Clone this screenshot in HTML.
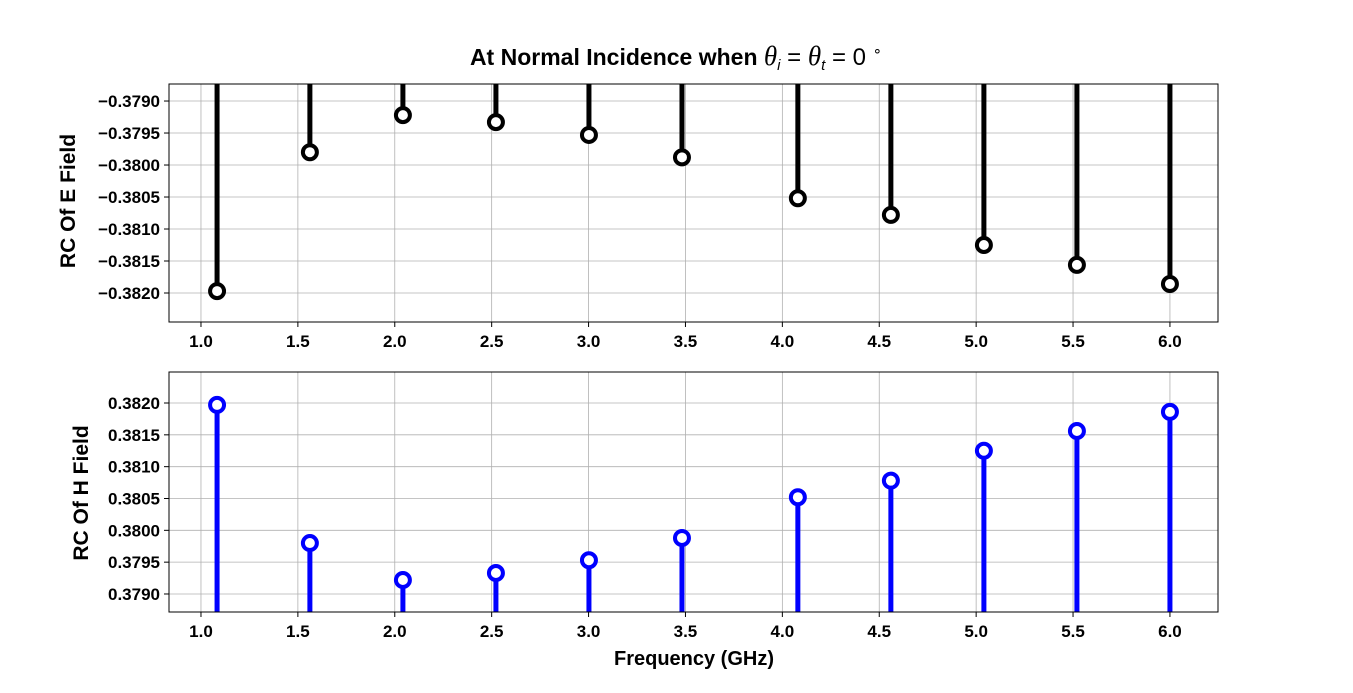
<!DOCTYPE html>
<html><head><meta charset="utf-8"><style>
body{margin:0;background:#fff;}
text{font-family:"Liberation Sans",sans-serif;font-weight:bold;}
</style></head><body>
<svg id="chart" width="1353" height="688" xmlns="http://www.w3.org/2000/svg">
<rect width="1353" height="688" fill="#fff"/>
<text x="676" y="65" font-size="23" text-anchor="middle">At Normal Incidence when <tspan font-family="Liberation Serif" font-style="italic" font-weight="normal" font-size="27">θ</tspan><tspan font-weight="normal" font-style="italic" font-size="15" dy="5">i</tspan><tspan dy="-5" font-weight="normal" font-size="24"> = </tspan><tspan font-family="Liberation Serif" font-style="italic" font-weight="normal" font-size="27">θ</tspan><tspan font-weight="normal" font-style="italic" font-size="15" dy="5">t</tspan><tspan dy="-5" font-weight="normal" font-size="24"> = 0 </tspan><tspan font-weight="normal" font-size="15" dy="-9">∘</tspan></text>
<g id="top"></g>
<g id="bot"></g>
<text x="694" y="665" font-size="20" text-anchor="middle">Frequency (GHz)</text>
<text transform="translate(75,201) rotate(-90)" font-size="21" text-anchor="middle">RC Of E Field</text>
<text transform="translate(88,493) rotate(-90)" font-size="21" text-anchor="middle">RC Of H Field</text>
</svg>
<script>
const freqs=[1.083,1.562,2.042,2.522,3.002,3.482,4.08,4.56,5.04,5.52,6.0];
const eValues=[-0.38197,-0.37980,-0.37922,-0.37933,-0.37953,-0.37988,-0.38052,-0.38078,-0.38125,-0.38156,-0.38186];
const hValues=[0.38197,0.37980,0.37922,0.37933,0.37953,0.37988,0.38052,0.38078,0.38125,0.38156,0.38186];
const xTicks=[1.0,1.5,2.0,2.5,3.0,3.5,4.0,4.5,5.0,5.5,6.0];
const eTicks=[-0.3790,-0.3795,-0.3800,-0.3805,-0.3810,-0.3815,-0.3820];
const hTicks=[0.3790,0.3795,0.3800,0.3805,0.3810,0.3815,0.3820];
const NS="http://www.w3.org/2000/svg";
const L=169,R=1218,xmin=0.835,xmax=6.248;
const xs=v=>L+(v-xmin)/(xmax-xmin)*(R-L);
function mk(p,t,a){const e=document.createElementNS(NS,t);for(const k in a)e.setAttribute(k,a[k]);p.appendChild(e);return e;}
function panel(g,top,bot,ymin,ymax,ticks,vals,color,fromTop,nm){
  const ys=v=>bot-(v-ymin)/(ymax-ymin)*(bot-top);
  xTicks.forEach(t=>{const x=xs(t);
    const l=mk(g,'line',{x1:x,x2:x,y1:top,y2:bot,stroke:'#b0b0b0','stroke-width':0.8});
    
    
    mk(g,'line',{x1:x,x2:x,y1:bot,y2:bot+5,stroke:'#000'});
    const tx=mk(g,'text',{x:x,y:bot+25,'font-size':17,'text-anchor':'middle'});tx.textContent=t.toFixed(1);
    
    
  });
  ticks.forEach(t=>{const y=ys(t);
    const l=mk(g,'line',{x1:L,x2:R,y1:y,y2:y,stroke:'#b0b0b0','stroke-width':0.8});
    
    
    mk(g,'line',{x1:L-5,x2:L,y1:y,y2:y,stroke:'#000'});
    const tx=mk(g,'text',{x:L-9,y:y+6,'font-size':17,'text-anchor':'end'});tx.textContent=t.toFixed(4).replace('-','−');
    
    
  });
  const cg=mk(g,'g',{'clip-path':'url(#c'+nm+')'});
  mk(mk(g,'clipPath',{id:'c'+nm}),'rect',{x:L,y:top,width:R-L,height:bot-top});
  freqs.forEach((f,i)=>{const x=xs(f),y=ys(vals[i]);
    const s=mk(cg,'line',{x1:x,x2:x,y1:fromTop?top:bot,y2:y,stroke:color,'stroke-width':5});
    
    
    const c=mk(g,'circle',{cx:x,cy:y,r:7,fill:'#fff',stroke:color,'stroke-width':4});
    
    
  });
  mk(g,'rect',{x:L,y:top,width:R-L,height:bot-top,fill:'none',stroke:'#000','stroke-width':1});
}
panel(document.getElementById('top'),84,322,-0.382453,-0.378734,eTicks,eValues,'#000',true,'t');
panel(document.getElementById('bot'),372,612,0.378717,0.382487,hTicks,hValues,'#0000ff',false,'b');
</script>
</body></html>
